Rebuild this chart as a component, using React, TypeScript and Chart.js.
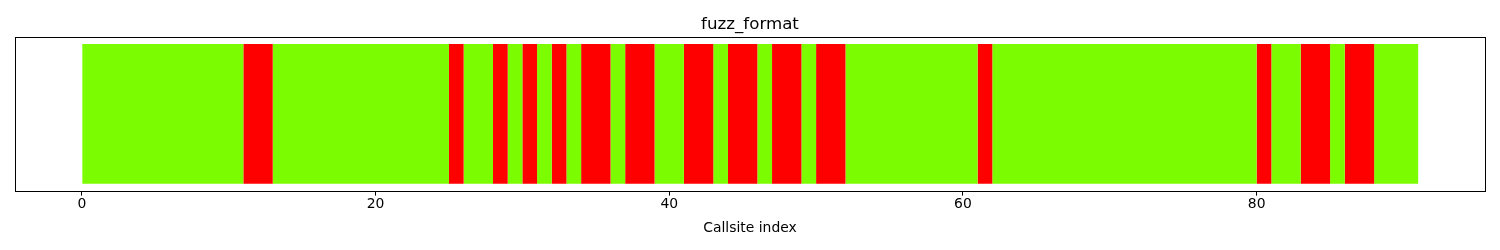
import React, { useEffect, useRef } from "react";
import { Chart, registerables } from "chart.js";

Chart.register(...registerables);

const chartTitle = "fuzz_format";
const xLabel = "Callsite index";
const rowLabels = ["fuzz_format"];

// status per callsite index (position = index): 0 = ok (green), 1 = failing (red)
const status: number[] = [
  0, 0, 0, 0, 0, 0, 0, 0, 0, 0,
  0, 1, 1, 0, 0, 0, 0, 0, 0, 0,
  0, 0, 0, 0, 0, 1, 0, 0, 1, 0,
  1, 0, 1, 0, 1, 1, 0, 1, 1, 0,
  0, 1, 1, 0, 1, 1, 0, 1, 1, 0,
  1, 1, 0, 0, 0, 0, 0, 0, 0, 0,
  0, 1, 0, 0, 0, 0, 0, 0, 0, 0,
  0, 0, 0, 0, 0, 0, 0, 0, 0, 0,
  1, 0, 0, 1, 1, 0, 1, 1, 0, 0,
  0,
];

const statusColors = ["#7CFC00", "#FF0000"];
const xTicks = [0, 20, 40, 60, 80];
const xMin = -4.55;
const xMax = 95.55;

const FONT = "'DejaVu Sans', sans-serif";

function buildRuns(values: number[]) {
  const runs: { start: number; end: number; s: number }[] = [];
  values.forEach((v, i) => {
    const last = runs[runs.length - 1];
    if (last && last.s === v && last.end === i) {
      last.end = i + 1;
    } else {
      runs.push({ start: i, end: i + 1, s: v });
    }
  });
  return runs;
}

const boxPlugin = {
  id: "boxPlugin",
  afterDatasetsDraw(chart: any) {
    const { ctx, chartArea } = chart;
    ctx.save();
    ctx.strokeStyle = "#000";
    ctx.lineWidth = 1;
    ctx.strokeRect(
      Math.round(chartArea.left) + 0.5,
      Math.round(chartArea.top) + 0.5,
      Math.round(chartArea.right - chartArea.left),
      Math.round(chartArea.bottom - chartArea.top)
    );
    ctx.restore();
  },
};

export default function App() {
  const ref = useRef<HTMLCanvasElement | null>(null);

  useEffect(() => {
    document.body.style.margin = "0";
    if (!ref.current) return;
    const runs = buildRuns(status);
    const datasets = runs.map((r) => ({
      label: r.s ? "fail" : "ok",
      data: [[r.start, r.end]] as any,
      backgroundColor: statusColors[r.s],
      borderWidth: 0,
      borderSkipped: false,
      grouped: false,
      barPercentage: 1 / 1.1,
      categoryPercentage: 1,
    }));

    const chart = new Chart(ref.current, {
      type: "bar",
      data: { labels: rowLabels, datasets },
      plugins: [boxPlugin],
      options: {
        indexAxis: "y",
        animation: false,
        responsive: false,
        devicePixelRatio: 1,
        layout: { padding: { left: 15, right: 15, top: 0, bottom: 13 } },
        plugins: {
          legend: { display: false },
          tooltip: { enabled: false },
          title: {
            display: true,
            text: chartTitle,
            color: "#000",
            font: { family: FONT, size: 16.67, weight: "normal" },
            padding: { top: 15, bottom: 2 },
          },
        },
        scales: {
          x: {
            type: "linear",
            min: xMin,
            max: xMax,
            afterBuildTicks: (scale: any) => {
              scale.ticks = xTicks.map((v) => ({ value: v }));
            },
            ticks: {
              color: "#000",
              font: { family: FONT, size: 13.9 },
              padding: 0,
              maxRotation: 0,
              autoSkip: false,
            },
            grid: {
              drawOnChartArea: false,
              drawTicks: true,
              tickLength: 5,
              color: "#000",
              lineWidth: 1,
            },
            border: { display: false },
            title: {
              display: true,
              text: xLabel,
              color: "#000",
              font: { family: FONT, size: 13.9 },
              padding: { top: 8, bottom: 0 },
            },
          },
          y: {
            type: "category",
            ticks: { display: false },
            grid: { display: false },
            border: { display: false },
            afterFit: (scale: any) => {
              scale.width = 0;
            },
          },
        },
      } as any,
    });
    return () => chart.destroy();
  }, []);

  return (
    <canvas
      ref={ref}
      width={1500}
      height={250}
      style={{ display: "block", width: 1500, height: 250 }}
    />
  );
}
